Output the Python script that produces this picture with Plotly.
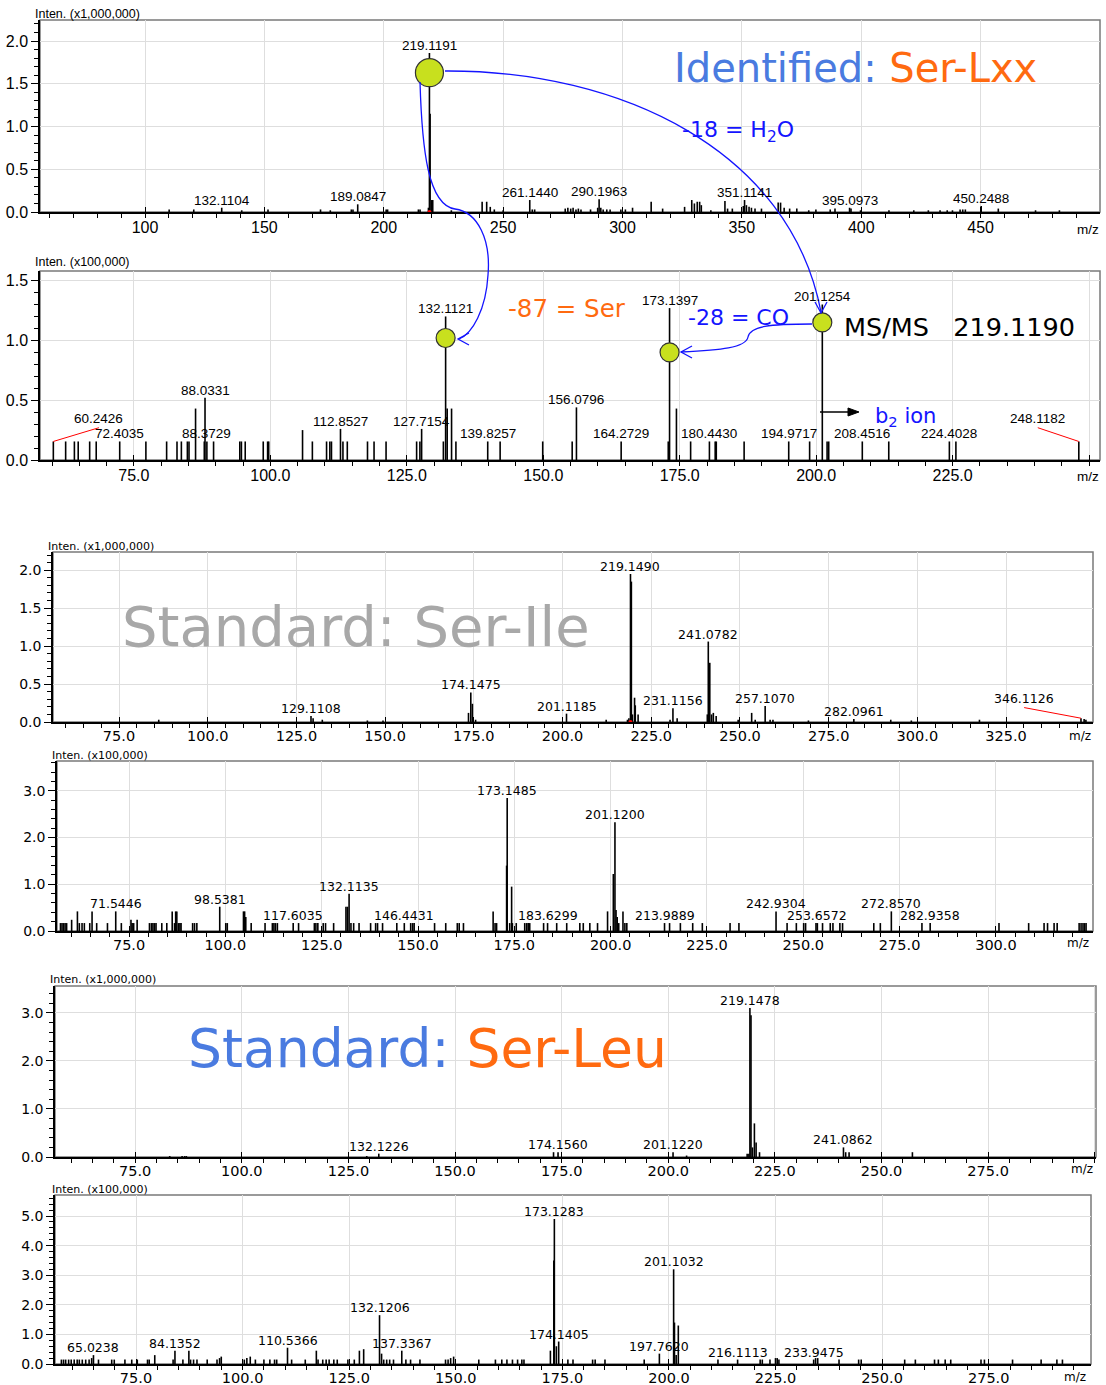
import plotly.graph_objects as go

W, H = 1106, 1385

# ---------------- DATA (m/z, relative intensity in the panel's unit) ----------------
# Panel 1: MS, Identified Ser-Lxx (x1,000,000)
p1_mz = [110.1, 120.4, 132.1104, 140.5, 151.5, 173.5, 177.6, 186.4, 187.1, 189.0847, 201.0, 201.6,
         214.5, 215.2, 218.7, 219.1191, 219.4, 220.1, 220.5, 228.3, 241.2, 243.1, 244.6, 246.3, 250.0,
         261.1440, 262.2, 263.2, 276.0, 277.1, 278.3, 279.3, 280.5, 281.5, 282.6, 286.6, 289.6, 290.1963,
         290.9, 291.9, 293.4, 294.8, 299.3, 301.2, 304.2, 312.0, 316.8, 326.0, 329.0, 330.1, 331.3, 332.3,
         333.0, 337.0, 342.9, 344.0, 346.0, 350.6, 351.1141, 351.9, 353.0, 354.0, 355.5, 358.2, 365.2,
         366.2, 367.7, 370.0, 373.0, 378.0, 381.0, 387.0, 389.0, 395.0973, 395.7, 399.7, 411.6, 422.0,
         428.1, 433.0, 436.0, 438.2, 441.4, 442.5, 443.6, 450.2488, 457.4, 473.0, 483.0]
p1_int = [0.03, 0.03, 0.05, 0.02, 0.03, 0.03, 0.02, 0.03, 0.03, 0.09, 0.03, 0.03,
          0.03, 0.03, 0.05, 1.86, 1.15, 0.14, 0.14, 0.02, 0.12, 0.12, 0.06, 0.03, 0.02,
          0.14, 0.03, 0.03, 0.04, 0.05, 0.04, 0.05, 0.03, 0.04, 0.03, 0.03, 0.05, 0.15,
          0.05, 0.03, 0.03, 0.03, 0.03, 0.03, 0.05, 0.12, 0.04, 0.06, 0.14, 0.10, 0.12, 0.12,
          0.08, 0.02, 0.13, 0.04, 0.04, 0.07, 0.14, 0.08, 0.06, 0.05, 0.04, 0.04, 0.11,
          0.11, 0.05, 0.04, 0.04, 0.02, 0.03, 0.03, 0.04, 0.05, 0.04, 0.02, 0.02, 0.02,
          0.02, 0.02, 0.02, 0.02, 0.03, 0.03, 0.03, 0.07, 0.04, 0.02, 0.02]
p1_labels = [132.1104, 189.0847, 219.1191, 261.1440, 290.1963, 351.1141, 395.0973, 450.2488]

# Panel 2: MS/MS 219.1190 (x100,000)
p2_mz = [60.2426, 62.5, 64.1, 64.8, 66.9, 68.1, 72.4035, 77.2, 81.0, 82.9, 83.7, 84.8, 85.1, 86.3,
         87.9, 88.0331, 88.3729, 89.6, 94.4, 94.7, 95.4, 98.7, 99.5, 99.7, 105.9, 107.7, 110.3, 110.9,
         111.2, 112.8527, 113.3, 114.1, 117.8, 119.0, 121.2, 126.8, 127.4, 127.7154, 131.7, 132.1121,
         132.4, 133.2, 134.0, 139.8257, 142.1, 149.9, 155.3, 156.0796, 164.2729, 172.9, 173.1397, 174.4,
         177.0, 180.4430, 181.5, 181.7, 186.8, 194.9717, 198.8, 201.1254, 202.0, 202.3, 208.4516, 213.3,
         224.4028, 225.6, 248.1182]
p2_int = [0.155, 0.155, 0.155, 0.155, 0.155, 0.155, 0.155, 0.155, 0.155, 0.155, 0.155, 0.155, 0.155, 0.43,
          0.155, 0.52, 0.155, 0.155, 0.155, 0.155, 0.155, 0.155, 0.155, 0.155, 0.25, 0.155, 0.155, 0.155,
          0.155, 0.26, 0.155, 0.155, 0.155, 0.155, 0.155, 0.155, 0.155, 0.26, 0.155, 1.20,
          0.43, 0.43, 0.155, 0.155, 0.155, 0.155, 0.155, 0.44, 0.155, 0.155, 1.27, 0.43,
          0.155, 0.155, 0.155, 0.155, 0.155, 0.155, 0.155, 1.30, 0.155, 0.155, 0.155, 0.155,
          0.155, 0.155, 0.155]
p2_labels = [60.2426, 72.4035, 88.0331, 88.3729, 112.8527, 127.7154, 132.1121, 139.8257, 156.0796,
             164.2729, 173.1397, 180.4430, 194.9717, 201.1254, 208.4516, 224.4028, 248.1182]

# Panel 3: MS, Standard Ser-Ile (x1,000,000)
p3_mz = [86.2, 129.1108, 129.7, 132.3, 145.0, 149.4, 173.5, 174.1475, 174.6, 175.5, 201.1185, 212.3,
         218.3, 218.7, 219.1490, 219.4, 219.7, 220.3, 220.5, 221.3, 230.3, 231.1156, 232.3, 240.8,
         241.0782, 241.5, 242.0, 242.5, 243.3, 249.5, 253.3, 254.3, 257.1070, 258.5, 259.3, 269.3,
         282.0961, 292.5, 298.3, 317.5, 346.1126, 347.0, 347.5]
p3_int = [0.03, 0.08, 0.05, 0.03, 0.02, 0.02, 0.12, 0.39, 0.24, 0.03, 0.11, 0.03,
          0.03, 0.05, 1.95, 1.85, 0.10, 0.32, 0.22, 0.10, 0.03, 0.18, 0.05, 0.10,
          1.06, 0.78, 0.10, 0.12, 0.08, 0.03, 0.12, 0.03, 0.21, 0.03, 0.03, 0.02,
          0.04, 0.03, 0.02, 0.03, 0.05, 0.04, 0.03]
p3_labels = [129.1108, 174.1475, 201.1185, 219.1490, 231.1156, 241.0782, 257.1070, 282.0961, 346.1126]

# Panel 4: MS/MS, Standard Ser-Ile (x100,000)
p4_mz = [57.2, 57.6, 58.0, 58.4, 58.8, 60.1, 61.6, 62.1, 62.8, 63.4, 64.8, 65.4, 66.6, 69.4, 71.5446,
         73.0, 75.5, 75.8, 76.2, 77.1, 80.3, 80.8, 81.2, 81.6, 82.0, 83.5, 84.8, 86.2, 86.8, 87.1, 87.4,
         87.8, 88.2, 88.5, 91.5, 92.0, 92.6, 98.5381, 100.1, 100.5, 104.7, 105.0, 105.3, 106.7, 110.3,
         112.2, 112.6, 113.0, 113.5, 117.6035, 119.0, 123.1, 123.5, 124.0, 125.4, 126.0, 128.1, 131.3,
         131.7, 132.1135, 132.6, 133.3, 134.7, 137.7, 139.0, 139.5, 140.8, 144.5, 146.4431, 148.1, 148.6,
         149.0, 154.3, 157.2, 160.2, 160.7, 161.8, 169.5, 170.0, 170.4, 173.0, 173.1485, 173.8, 174.3,
         174.5, 175.5, 177.7, 178.2, 178.6, 179.0, 182.6, 183.6299, 186.0, 188.6, 192.0, 192.9, 194.6,
         196.6, 199.2, 200.7, 201.1200, 201.4, 201.7, 202.1, 203.2, 203.7, 204.2, 213.9889, 215.3, 218.1,
         221.3, 223.8, 231.0, 233.3, 242.9304, 245.8, 248.2, 250.1, 250.6, 253.3, 253.6572, 255.0, 257.0,
         257.7, 259.5, 260.2, 268.3, 270.0, 272.8570, 280.8, 282.9358, 300.8, 308.5, 312.5, 313.4, 315.1,
         315.9, 321.6, 322.1, 322.6, 323.0, 323.4]
p4_int = [0.17, 0.17, 0.17, 0.17, 0.17, 0.24, 0.42, 0.17, 0.17, 0.17, 0.17, 0.42, 0.17, 0.17, 0.42,
          0.17, 0.24, 0.17, 0.17, 0.24, 0.17, 0.17, 0.17, 0.17, 0.17, 0.17, 0.17, 0.42, 0.17, 0.42, 0.42,
          0.17, 0.17, 0.17, 0.17, 0.17, 0.17, 0.52, 0.17, 0.17, 0.42, 0.42, 0.30, 0.17, 0.17,
          0.17, 0.17, 0.17, 0.17, 0.17, 0.17, 0.17, 0.17, 0.17, 0.17, 0.17, 0.17, 0.52,
          0.52, 0.80, 0.17, 0.17, 0.17, 0.17, 0.17, 0.17, 0.17, 0.17, 0.17, 0.17, 0.17,
          0.17, 0.17, 0.17, 0.17, 0.17, 0.17, 0.42, 0.17, 0.17, 1.40, 2.85, 0.17, 0.95,
          0.17, 0.17, 0.17, 0.17, 0.17, 0.17, 0.17, 0.17, 0.17, 0.17, 0.17, 0.17, 0.17,
          0.17, 0.42, 1.22, 2.33, 0.45, 0.30, 0.17, 0.42, 0.17, 0.17, 0.17, 0.17, 0.17,
          0.17, 0.17, 0.17, 0.17, 0.42, 0.17, 0.17, 0.17, 0.17, 0.17, 0.17, 0.17, 0.17,
          0.17, 0.17, 0.17, 0.17, 0.17, 0.42, 0.17, 0.17, 0.17, 0.17, 0.17, 0.17, 0.17,
          0.17, 0.17, 0.17, 0.17, 0.17, 0.17]
p4_labels = [71.5446, 98.5381, 117.6035, 132.1135, 146.4431, 173.1485, 183.6299, 201.1200, 213.9889,
             242.9304, 253.6572, 272.8570, 282.9358]

# Panel 5: MS, Standard Ser-Leu (x1,000,000)
p5_mz = [83.1, 86.0, 86.6, 87.0, 129.3, 132.1226, 173.1, 174.1560, 201.1220, 204.3, 218.5, 218.9,
         219.1478, 219.4, 219.75, 220.2, 220.6, 221.4, 241.0862, 241.6, 242.4, 257.25]
p5_int = [0.02, 0.02, 0.02, 0.02, 0.02, 0.07, 0.10, 0.10, 0.10, 0.03, 0.07, 0.07,
          3.10, 2.95, 0.20, 0.70, 0.30, 0.10, 0.20, 0.10, 0.10, 0.10]
p5_labels = [132.1226, 174.1560, 201.1220, 219.1478, 241.0862]

# Panel 6: MS/MS, Standard Ser-Leu (x100,000)
p6_mz = [57.5, 58.0, 58.5, 59.2, 59.8, 60.5, 61.2, 61.7, 62.4, 63.2, 64.0, 64.6, 65.0238, 66.2, 69.3,
         69.9, 72.4, 74.0, 75.3, 77.7, 78.1, 79.4, 83.7, 84.1352, 86.0, 87.4, 87.8, 88.5, 89.3, 91.7,
         94.0, 94.6, 95.0, 100.4, 101.0, 101.8, 103.0, 105.0, 106.4, 107.5, 108.0, 110.5366, 111.5,
         114.7, 117.3, 117.7, 118.8, 119.6, 120.3, 121.4, 122.2, 124.7, 126.2, 127.4, 128.4, 132.1206,
         132.6, 133.1, 133.8, 134.5, 135.4, 137.3367, 138.3, 139.4, 141.6, 147.6, 148.2, 148.8, 149.5,
         155.4, 159.3, 160.8, 162.0, 163.3, 164.5, 165.5, 166.0, 172.2, 173.0, 173.1283, 173.6,
         174.1405, 176.3, 177.5, 182.1, 182.7, 185.0, 194.2, 197.7620, 201.1032, 201.3, 201.7, 202.2,
         211.5, 216.1113, 221.4, 221.9, 223.7, 225.0, 225.4, 225.8, 233.9475, 234.4, 234.9, 239.9,
         244.5, 245.1, 255.3, 257.8, 262.3, 263.2, 264.8, 266.1, 273.2, 274.0, 280.6, 287.3, 291.0,
         292.3]
p6_int = [0.15, 0.15, 0.15, 0.15, 0.15, 0.15, 0.15, 0.15, 0.15, 0.15, 0.15, 0.20, 0.30, 0.15, 0.15,
          0.15, 0.15, 0.15, 0.15, 0.15, 0.15, 0.30, 0.15, 0.45, 0.15, 0.45, 0.15, 0.15, 0.15, 0.15,
          0.15, 0.20, 0.25, 0.15, 0.20, 0.25, 0.15, 0.15, 0.15, 0.15, 0.15, 0.55, 0.15,
          0.15, 0.45, 0.15, 0.15, 0.15, 0.15, 0.15, 0.15, 0.15, 0.15, 0.45, 0.50, 1.65,
          0.35, 0.15, 0.15, 0.15, 0.15, 0.45, 0.15, 0.15, 0.15, 0.15, 0.15, 0.20, 0.25,
          0.15, 0.15, 0.15, 0.15, 0.15, 0.15, 0.15, 0.15, 0.45, 3.50, 4.90, 0.60,
          0.76, 0.15, 0.15, 0.15, 0.15, 0.15, 0.15, 0.35, 3.20, 1.40, 0.30, 1.30,
          0.15, 0.15, 0.15, 0.15, 0.15, 0.20, 0.20, 0.15, 0.15, 0.20, 0.20, 0.15,
          0.15, 0.15, 0.15, 0.15, 0.15, 0.15, 0.15, 0.15, 0.15, 0.15, 0.15, 0.15, 0.15,
          0.15]
p6_labels = [65.0238, 84.1352, 110.5366, 132.1206, 137.3367, 173.1283, 174.1405, 197.7620, 201.1032,
             216.1113, 233.9475]

scale_1e6 = "Inten. (x1,000,000)"
scale_1e5 = "Inten. (x100,000)"

# ---------------- LAYOUT HELPERS ----------------
def fx(px):
    return px / W

def fy(py):
    return 1 - py / H

panels = [
    dict(mz=p1_mz, it=p1_int, lab=p1_labels, box=(40, 20, 1100, 212), xr=[56, 500], yr=[0, 2.246],
         xdt=50, xmin=10, xfmt="d", ydt=0.5, ymin=0.1, scale=scale_1e6, font="Liberation Sans",
         tfs=16, yfs=16, lfs=13.5, sfs=12.5, sx=33, sy=14, mzx=1088, mzy=229, lw=1.6),
    dict(mz=p2_mz, it=p2_int, lab=p2_labels, box=(40, 271, 1100, 460), xr=[57.8, 252], yr=[0, 1.58],
         xdt=25, xmin=5, xfmt=".1f", ydt=0.5, ymin=0.1, scale=scale_1e5, font="Liberation Sans",
         tfs=16, yfs=16, lfs=13.5, sfs=12.5, sx=33, sy=262, mzx=1088, mzy=476, lw=1.6),
    dict(mz=p3_mz, it=p3_int, lab=p3_labels, box=(53, 552, 1093, 722), xr=[56.4, 349.5], yr=[0, 2.24],
         xdt=25, xmin=5, xfmt=".1f", ydt=0.5, ymin=0.1, scale=scale_1e6, font="DejaVu Sans",
         tfs=14.5, yfs=14, lfs=12.5, sfs=11, sx=46, sy=546, mzx=1080, mzy=736, lw=1.6),
    dict(mz=p4_mz, it=p4_int, lab=p4_labels, box=(57, 761, 1093, 931), xr=[56.3, 325.2], yr=[0, 3.64],
         xdt=25, xmin=5, xfmt=".1f", ydt=1.0, ymin=0.2, scale=scale_1e5, font="DejaVu Sans",
         tfs=14.5, yfs=14, lfs=12.5, sfs=11, sx=50, sy=755, mzx=1078, mzy=943, lw=1.6),
    dict(mz=p5_mz, it=p5_int, lab=p5_labels, box=(55, 986, 1096, 1157), xr=[56.2, 300.3], yr=[0, 3.56],
         xdt=25, xmin=5, xfmt=".1f", ydt=1.0, ymin=0.2, scale=scale_1e6, font="DejaVu Sans",
         tfs=14.5, yfs=14, lfs=12.5, sfs=11, sx=48, sy=980, mzx=1082, mzy=1169, lw=1.6),
    dict(mz=p6_mz, it=p6_int, lab=p6_labels, box=(55, 1195, 1091, 1364), xr=[56.0, 299.0], yr=[0, 5.71],
         xdt=25, xmin=5, xfmt=".1f", ydt=1.0, ymin=0.2, scale=scale_1e5, font="DejaVu Sans",
         tfs=14.5, yfs=14, lfs=12.5, sfs=11, sx=50, sy=1189, mzx=1075, mzy=1377, lw=1.6),
]

# labels drawn with a red leader line: (panel, m/z) -> (label x, label y) in data units
leader = {(1, 60.2426): (68.6, 0.27), (1, 248.1182): (240.6, 0.27), (2, 346.1126): (330.1, 0.19)}

fig = go.Figure()
annotations = []
shapes = []
layout = dict(width=W, height=H, margin=dict(l=0, r=0, t=0, b=0, pad=0, autoexpand=False), autosize=False,
              paper_bgcolor="white", plot_bgcolor="white", showlegend=False)

for i, p in enumerate(panels):
    n = "" if i == 0 else str(i + 1)
    xa, ya = "x" + n, "y" + n
    x0, y0, x1, y1 = p["box"]
    xs, ys = [], []
    for m, h in zip(p["mz"], p["it"]):
        xs += [m, m, None]
        ys += [0, h, None]
    fig.add_trace(go.Scatter(x=xs, y=ys, mode="lines", line=dict(color="black", width=p["lw"]),
                             xaxis=xa, yaxis=ya, hoverinfo="skip"))
    layout["xaxis" + n] = dict(domain=[fx(x0), fx(x1)], anchor=ya, range=p["xr"], tick0=0, dtick=p["xdt"],
                               tickformat=p["xfmt"], ticks="inside", ticklen=5, tickcolor="black",
                               showline=True, linecolor="black", linewidth=2, showgrid=True,
                               gridcolor="#dedede", gridwidth=1, zeroline=False, automargin=False,
                               tickfont=dict(family=p["font"], size=p["tfs"], color="black"),
                               minor=dict(dtick=p["xmin"], tick0=0, ticks="outside", ticklen=4,
                                          tickcolor="black", showgrid=False),
                               fixedrange=True)
    layout["yaxis" + n] = dict(domain=[fy(y1), fy(y0)], anchor=xa, range=p["yr"], tick0=0, dtick=p["ydt"],
                               tickformat=".1f", ticks="outside", ticklen=7, tickcolor="black",
                               showline=True, linecolor="black", linewidth=1.5, showgrid=True,
                               gridcolor="#dedede", gridwidth=1, zeroline=False, automargin=False,
                               tickfont=dict(family=p["font"], size=p["yfs"], color="black"),
                               minor=dict(dtick=p["ymin"], tick0=0, ticks="outside", ticklen=4,
                                          tickcolor="black", showgrid=False),
                               fixedrange=True)
    # frame (top / right in gray)
    shapes.append(dict(type="rect", xref=xa + " domain", yref=ya + " domain", x0=0, x1=1, y0=0, y1=1,
                       line=dict(color="#7a7a7a", width=1.5), layer="below"))
    # scale label and m/z
    annotations.append(dict(xref="paper", yref="paper", x=fx(p["sx"]), y=fy(p["sy"]), xanchor="left",
                            yanchor="middle", showarrow=False, text=p["scale"],
                            font=dict(family=p["font"], size=p["sfs"], color="black")))
    annotations.append(dict(xref="paper", yref="paper", x=fx(p["mzx"]), y=fy(p["mzy"]), xanchor="center",
                            yanchor="middle", showarrow=False, text="m/z",
                            font=dict(family=p["font"], size=p["sfs"] + 1, color="black")))
    # peak labels
    for lab in p["lab"]:
        h = p["it"][p["mz"].index(lab)]
        key = (i, lab)
        if key in leader:
            lx, ly = leader[key]
            shapes.append(dict(type="line", xref=xa, yref=ya, x0=lab, y0=h, x1=lx, y1=ly,
                               line=dict(color="red", width=1)))
            annotations.append(dict(xref=xa, yref=ya, x=lx, y=ly, xanchor="center", yanchor="bottom",
                                    showarrow=False, text=f"{lab:.4f}",
                                    font=dict(family=p["font"], size=p["lfs"], color="black")))
        else:
            annotations.append(dict(xref=xa, yref=ya, x=lab, y=h, xanchor="center", yanchor="bottom",
                                    yshift=-2, showarrow=False, text=f"{lab:.4f}",
                                    font=dict(family=p["font"], size=p["lfs"], color="black")))

# precursor markers at baseline (red dots)
fig.add_trace(go.Scatter(x=[p1_labels[2]], y=[0], mode="markers", marker=dict(color="red", size=4),
                         xaxis="x", yaxis="y", hoverinfo="skip"))
fig.add_trace(go.Scatter(x=[p3_labels[3]], y=[0], mode="markers", marker=dict(color="red", size=4),
                         xaxis="x3", yaxis="y3", hoverinfo="skip"))

# highlighted ions (yellow-green circles)
circ = "#c8e01e"
fig.add_trace(go.Scatter(x=[p1_labels[2]], y=[1.63], mode="markers",
                         marker=dict(color=circ, size=28, line=dict(color="#333333", width=1.2)),
                         xaxis="x", yaxis="y", hoverinfo="skip"))
fig.add_trace(go.Scatter(x=[p2_labels[6], p2_labels[10], p2_labels[13]], y=[1.02, 0.90, 1.15], mode="markers",
                         marker=dict(color=circ, size=19, line=dict(color="#333333", width=1.2)),
                         xaxis="x2", yaxis="y2", hoverinfo="skip"))

# curved blue arrows (pixel coordinates converted to paper)
def P(pts):
    return " ".join(f"{fx(a):.5f},{fy(b):.5f}" for a, b in pts)

blue = "#1414ff"
curves = [
    "M " + P([(445, 71)]) + " C " + P([(620, 70), (790, 150), (821, 312)]),
    "M " + P([(420, 82)]) + " C " + P([(422, 150), (428, 205), (455, 209)]) +
    " C " + P([(478, 212), (491, 240), (488, 275)]) + " C " + P([(486, 310), (472, 334), (459, 339)]),
    "M " + P([(812, 324)]) + " C " + P([(770, 324), (750, 326), (748, 337)]) +
    " C " + P([(746, 348), (720, 350), (681, 352)]),
]
heads = [
    "M " + P([(815, 302)]) + " L " + P([(821, 313)]) + " L " + P([(827, 302)]),
    "M " + P([(469, 333)]) + " L " + P([(458, 339)]) + " L " + P([(469, 345)]),
    "M " + P([(692, 346)]) + " L " + P([(681, 352)]) + " L " + P([(692, 358)]),
]
for d in curves + heads:
    shapes.append(dict(type="path", xref="paper", yref="paper", path=d,
                       line=dict(color=blue, width=1.3)))

# b2 ion arrow (black)
shapes.append(dict(type="line", xref="paper", yref="paper", x0=fx(820), y0=fy(412), x1=fx(855), y1=fy(412),
                   line=dict(color="black", width=1.3)))
shapes.append(dict(type="path", xref="paper", yref="paper",
                   path="M " + P([(848, 408)]) + " L " + P([(859, 412)]) + " L " + P([(848, 416)]) + " Z",
                   fillcolor="black", line=dict(color="black", width=1)))

comic = "DejaVu Sans"
royal = "#4a7be0"
orange = "#ff6a10"
texts = [
    (855, 68, f"<span style='color:{royal}'>Identified:</span> <span style='color:{orange}'>Ser-Lxx</span>", 40, royal),
    (738, 131, "-18 = H<sub>2</sub>O", 22, blue),
    (567, 308, "-87 = Ser", 24.5, orange),
    (738, 318, "-28 = CO", 22, blue),
    (959, 327, "MS/MS\u00a0\u00a0\u00a0219.1190", 25.5, "black"),
    (905, 417, "b<sub>2</sub> ion", 21, blue),
    (356, 626, "Standard: Ser-Ile", 56, "#a8a8a8"),
    (427, 1048, f"<span style='color:{royal}'>Standard:</span> <span style='color:{orange}'>Ser-Leu</span>", 53.5, royal),
]
for x, y, t, s, c in texts:
    annotations.append(dict(xref="paper", yref="paper", x=fx(x), y=fy(y), xanchor="center", yanchor="middle",
                            showarrow=False, text=t, font=dict(family=comic, size=s, color=c)))

layout["annotations"] = annotations
layout["shapes"] = shapes
fig.update_layout(**layout)
fig.write_html("out.html")
